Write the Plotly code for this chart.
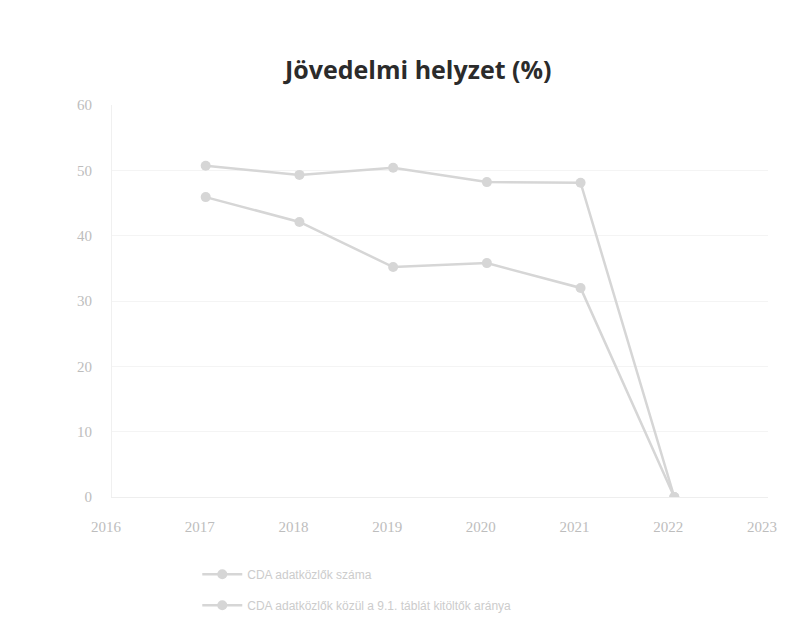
import plotly.graph_objects as go

years = [2017, 2018, 2019, 2020, 2021, 2022]
cda_count = [50.7, 49.3, 50.4, 48.2, 48.1, 0]
cda_share = [45.9, 42.1, 35.2, 35.8, 32.0, 0]
x_ticks = [2016, 2017, 2018, 2019, 2020, 2021, 2022, 2023]
y_ticks = [0, 10, 20, 30, 40, 50, 60]

line_grey = "#d6d6d6"
text_grey = "#bdbdbd"

fig = go.Figure()
fig.add_scatter(
    x=years, y=cda_count, mode="lines+markers", name="CDA adatközlők száma",
    legendgroup="a",
    line=dict(color=line_grey, width=2.5),
    marker=dict(symbol="circle", size=10, color=line_grey),
)
fig.add_scatter(
    x=years, y=cda_share, mode="lines+markers",
    name="CDA adatközlők közül a 9.1. táblát kitöltők aránya",
    legendgroup="b",
    line=dict(color=line_grey, width=2.5),
    marker=dict(symbol="circle", size=10, color=line_grey),
)

fig.update_layout(
    width=789, height=625,
    paper_bgcolor="white", plot_bgcolor="white",
    margin=dict(l=104, r=29, t=97, b=136),
    title=dict(text="<b>Jövedelmi helyzet (%)</b>", x=0.52, xanchor="center",
               y=0.9, yanchor="middle",
               font=dict(family="Open Sans", size=25, color="#2b2b2b")),
    font=dict(family="Liberation Serif", size=15, color=text_grey),
    showlegend=True,
    legend=dict(orientation="v", x=0.13, xanchor="left", y=-0.16, yanchor="top",
                font=dict(family="Liberation Sans", size=12, color="#cccccc"),
                tracegroupgap=12, itemwidth=40),
)
fig.update_xaxes(
    range=[2016, 2023], tickvals=x_ticks, ticktext=[str(v) for v in x_ticks],
    showgrid=False, zeroline=False, showline=True, linecolor="#eeeeee",
    ticks="", ticklabelstandoff=16, ticklabelshift=-6,
)
fig.update_yaxes(
    range=[0, 60], tickvals=y_ticks, showgrid=True, gridcolor="#f4f4f4",
    zeroline=False, showline=True, linecolor="#f0f0f0", ticks="",
    ticklabelstandoff=16,
)

fig.write_html("out.html")
